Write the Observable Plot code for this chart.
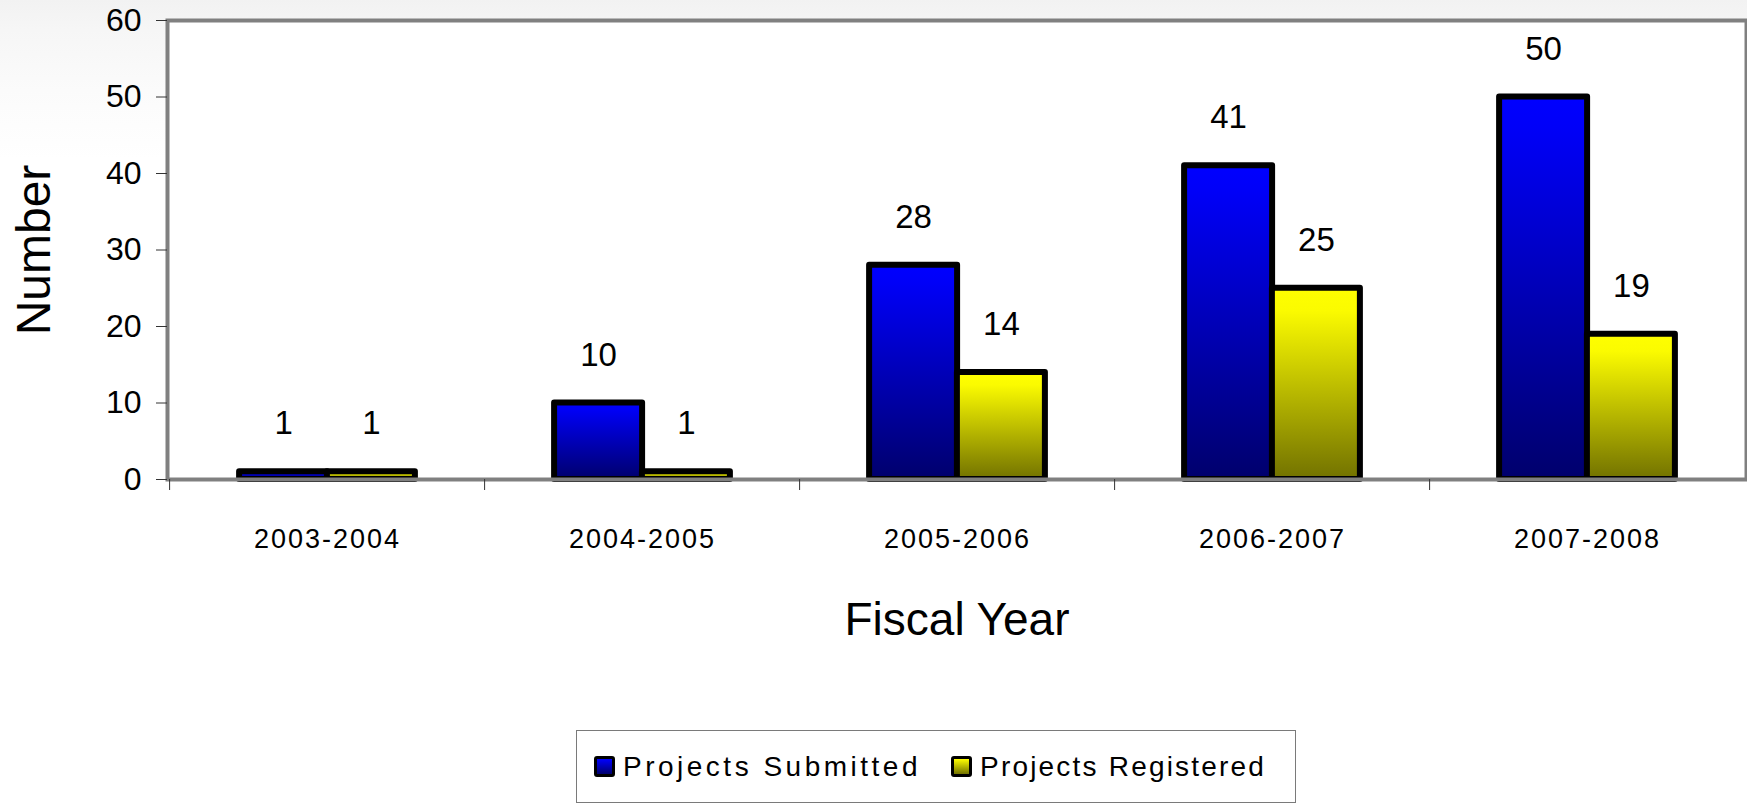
<!DOCTYPE html>
<html>
<head>
<meta charset="utf-8">
<script src="https://cdn.jsdelivr.net/npm/d3@7"></script>
<script src="https://cdn.jsdelivr.net/npm/@observablehq/plot@0.6"></script>
<style>
  html, body { margin: 0; padding: 0; }
  body {
    width: 1747px; height: 804px; overflow: hidden;
    background: linear-gradient(to bottom, #f2f2f2 0px, #f6f6f6 30px, #fbfbfb 90px, #ffffff 160px);
    font-family: "Liberation Sans", Arial, sans-serif;
  }
  #legend {
    position: absolute; left: 576px; top: 730px; width: 720px; height: 73px;
    border: 1px solid #7a7a7a; background: #fff; box-sizing: border-box;
    display: flex; flex-wrap: nowrap; align-items: center; padding-left: 17px;
    font-size: 28px; color: #000; white-space: nowrap;
  }
  .item { display: flex; align-items: center; margin-right: 30px; flex-shrink: 0; }
  .item:nth-child(1) span { letter-spacing: 3.5px; }
  .item:nth-child(2) span { letter-spacing: 2.2px; }
  .sw { width: 15px; height: 15px; border: 3px solid #000; border-radius: 3px; margin-right: 8px; flex-shrink: 0; }
  [aria-label="x-axis tick label"] text { letter-spacing: 2px; }
</style>
</head>
<body>
<svg width="0" height="0" style="position:absolute">
  <defs>
    <linearGradient id="gBlue" x1="0" y1="0" x2="0" y2="1">
      <stop offset="0" stop-color="#0000ff"/>
      <stop offset="0.08" stop-color="#0000f8"/>
      <stop offset="1" stop-color="#00006c"/>
    </linearGradient>
    <linearGradient id="gYellow" x1="0" y1="0" x2="0" y2="1">
      <stop offset="0" stop-color="#ffff00"/>
      <stop offset="0.12" stop-color="#fbfb00"/>
      <stop offset="1" stop-color="#727200"/>
    </linearGradient>
  </defs>
</svg>
<div id="chart"></div>
<div id="legend"></div>
<script>
const years = ["2003-2004", "2004-2005", "2005-2006", "2006-2007", "2007-2008"];
const submitted = [1, 10, 28, 41, 50];
const registered = [1, 1, 14, 25, 19];
const seriesNames = ["Projects Submitted", "Projects Registered"];
const yTicks = [0, 10, 20, 30, 40, 50, 60];

const subData = years.map((y, i) => ({year: y, value: submitted[i]}));
const regData = years.map((y, i) => ({year: y, value: registered[i]}));

const W = 1747, H = 700, ML = 167, MR = 1;
const step = (W - ML - MR) / years.length;
const half = step * 0.278 / 2;

const chart = Plot.plot({
  width: W, height: H,
  marginLeft: ML, marginRight: MR, marginTop: 20, marginBottom: 221,
  style: {background: "transparent", fontFamily: "Liberation Sans, Arial, sans-serif", color: "#000"},
  x: {domain: years, paddingInner: 0.722, paddingOuter: 0.361, label: null},
  y: {domain: [0, 60], label: null},
  marks: [
    Plot.frame({fill: "white", stroke: null}),
    Plot.barY(subData, {x: "year", y: "value", dx: -half, fill: "url(#gBlue)", stroke: "black", strokeWidth: 6, strokeLinejoin: "round"}),
    Plot.barY(regData, {x: "year", y: "value", dx: half, fill: "url(#gYellow)", stroke: "black", strokeWidth: 6, strokeLinejoin: "round"}),
    Plot.text(subData, {x: "year", y: "value", text: "value", dx: -half, dy: -48, fontSize: 33, fill: "black"}),
    Plot.text(regData, {x: "year", y: "value", text: "value", dx: half, dy: -48, fontSize: 33, fill: "black"}),
    Plot.frame({stroke: "#808080", strokeWidth: 4}),
    Plot.axisY({ticks: yTicks, tickSize: 11, tickPadding: 15, fontSize: 32, stroke: "#333", label: null, tickFormat: d => d}),
    Plot.axisX({tickSize: 11, dx: -step / 2, stroke: "#333", tickFormat: () => "", label: null}),
    Plot.axisX({tickSize: 0, tickPadding: 49, fontSize: 27, label: null}),
    Plot.text(["Number"], {frameAnchor: "left", rotate: -90, textAnchor: "middle", lineAnchor: "middle", dx: -133, fontSize: 48, fill: "black"}),
    Plot.text(["Fiscal Year"], {frameAnchor: "bottom", textAnchor: "middle", lineAnchor: "middle", dy: 141, fontSize: 46, fill: "black"})
  ]
});
document.getElementById("chart").appendChild(chart);

const legend = document.getElementById("legend");
const grads = ["linear-gradient(#0000ff, #00006c)", "linear-gradient(#ffff00, #727200)"];
seriesNames.forEach((name, i) => {
  const item = document.createElement("div");
  item.className = "item";
  const sw = document.createElement("div");
  sw.className = "sw";
  sw.style.background = grads[i];
  const t = document.createElement("span");
  t.textContent = name;
  item.appendChild(sw);
  item.appendChild(t);
  legend.appendChild(item);
});
</script>
</body>
</html>
